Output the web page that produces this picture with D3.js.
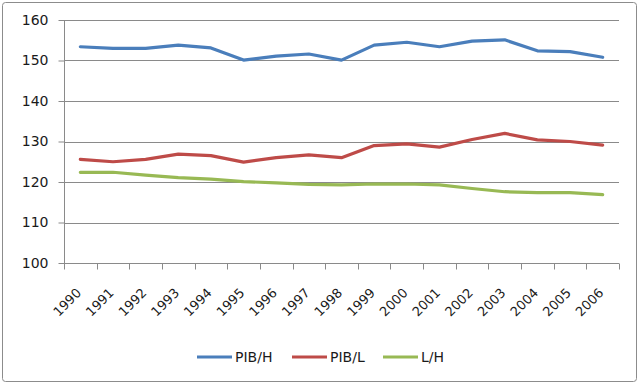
<!DOCTYPE html>
<html><head><meta charset="utf-8">
<script src="https://cdn.jsdelivr.net/npm/d3@7"></script>
<style>body{margin:0;background:#fff}svg{display:block}text{font-family:"DejaVu Sans",sans-serif;fill:#1a1a1a}</style>
</head><body>
<svg id="c" width="640" height="385"></svg>
<script>
const years = ["1990","1991","1992","1993","1994","1995","1996","1997","1998","1999","2000","2001","2002","2003","2004","2005","2006"];
const pibH = [153.4,153.0,153.0,153.8,153.1,150.1,151.1,151.6,150.1,153.8,154.5,153.4,154.8,155.1,152.4,152.2,150.8];
const pibL = [125.6,125.0,125.6,126.9,126.5,124.9,126.0,126.7,126.0,129.0,129.4,128.6,130.5,132.0,130.4,130.0,129.1];
const lH = [122.4,122.4,121.7,121.1,120.7,120.1,119.8,119.4,119.3,119.5,119.5,119.3,118.4,117.6,117.4,117.4,116.9];
const yTicks = [100,110,120,130,140,150,160];
const seriesNames = ["PIB/H","PIB/L","L/H"];
const colors = ["#4A7EBB","#BE4B48","#98B954"];
const series = [pibH, pibL, lH];

const svg = d3.select("#c");
svg.append("rect").attr("x",2.5).attr("y",2.5).attr("width",634).attr("height",379)
  .attr("rx",3).attr("fill","#fff").attr("stroke","#8c8c8c");

const x = d3.scaleBand().domain(years).range([64,619]);
const y = d3.scaleLinear().domain([100,160]).range([263,20]);

svg.append("g").selectAll("line").data(yTicks.slice(1)).join("line")
  .attr("x1",64).attr("x2",619).attr("y1",d=>Math.round(y(d))+0.5).attr("y2",d=>Math.round(y(d))+0.5)
  .attr("stroke","#8a8a8a");

const gy = svg.append("g").attr("transform","translate(64.5,0)")
  .call(d3.axisLeft(y).tickValues(yTicks).tickSize(6).tickPadding(10).tickFormat(d3.format("d")));
gy.selectAll("path,line").attr("stroke","#8a8a8a");
gy.selectAll("text").style("font-size","14px").style("font-family","DejaVu Sans").attr("fill","#1a1a1a");
gy.select(".domain").attr("d","M0,20V263.5");

const gx = svg.append("g").attr("transform","translate(0,263.5)");
gx.append("line").attr("x1",64).attr("x2",619).attr("stroke","#8a8a8a");
const edges = years.map(d=>x(d)).concat([x.range()[1]]);
gx.selectAll("line.t").data(edges).join("line").attr("class","t")
  .attr("x1",d=>Math.round(d)+0.5).attr("x2",d=>Math.round(d)+0.5).attr("y1",0).attr("y2",6).attr("stroke","#8a8a8a");
gx.selectAll("text").data(years).join("text")
  .attr("transform",d=>`translate(${x(d)+x.bandwidth()/2-1.5},${27}) rotate(-45)`)
  .attr("text-anchor","end").attr("dy","0.35em").style("font-size","13px").text(d=>d);

const line = d3.line().x((d,i)=>x(years[i])+x.bandwidth()/2).y(d=>y(d));
svg.append("g").selectAll("path").data(series).join("path")
  .attr("d",d=>line(d)).attr("fill","none").attr("stroke",(d,i)=>colors[i])
  .attr("stroke-width",3.2).attr("stroke-linejoin","round").attr("stroke-linecap","round");

const legX = [197,292,383];
const lg = svg.append("g").selectAll("g").data(seriesNames).join("g")
  .attr("transform",(d,i)=>`translate(${legX[i]},357)`);
lg.append("line").attr("x1",0).attr("x2",35).attr("stroke",(d,i)=>colors[i]).attr("stroke-width",3);
lg.append("text").attr("x",38).attr("dy","0.36em").style("font-size","14px").text(d=>d);
</script>
</body></html>
